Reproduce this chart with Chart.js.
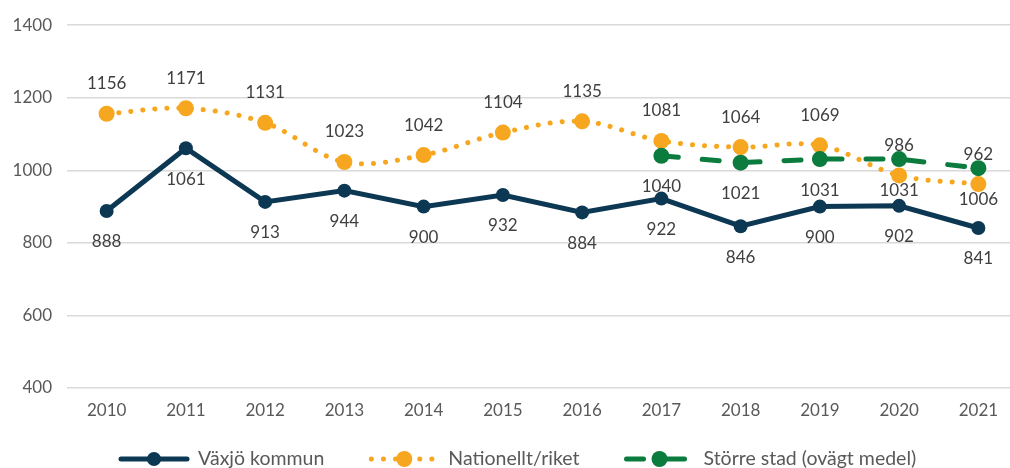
<!DOCTYPE html>
<html lang="sv">
<head>
<meta charset="utf-8">
<title>Växjö kommun – jämförelse</title>
<script src="https://cdn.jsdelivr.net/npm/chart.js@4/dist/chart.umd.min.js"></script>
<style>
    html, body { margin: 0; padding: 0; background: #fff; overflow: hidden; }
    .chart-wrap { position: relative; width: 1026px; height: 468px; }
</style>
</head>
<body>
<div class="chart-wrap"><canvas id="trendChart"></canvas></div>
<script>
// Series data
const years = ['2010', '2011', '2012', '2013', '2014', '2015', '2016', '2017', '2018', '2019', '2020', '2021'];
const vaxjo = [888, 1061, 913, 944, 900, 932, 884, 922, 846, 900, 902, 841];
const riket = [1156, 1171, 1131, 1023, 1042, 1104, 1135, 1081, 1064, 1069, 986, 962];
const storreStad = [null, null, null, null, null, null, null, 1040, 1021, 1031, 1031, 1006];
const yTicks = [400, 600, 800, 1000, 1200, 1400];

const colors = {
    navy: '#0c3853',
    orange: '#f7a71f',
    green: '#0b7b3e',
    grid: '#d9d9d9',
    text: '#595959',
    label: '#404040'
};

const fontFamily = 'Lato, "Open Sans", sans-serif';

// Value labels drawn next to every point (above or below)
const valueLabels = {
    id: 'valueLabels',
    afterDatasetsDraw(chart) {
        const { ctx } = chart;
        ctx.save();
        ctx.font = `17px ${fontFamily}`;
        ctx.fillStyle = colors.label;
        ctx.textAlign = 'center';
        ctx.textBaseline = 'middle';
        chart.data.datasets.forEach((ds, i) => {
            const meta = chart.getDatasetMeta(i);
            const shift = ds.labelSide === 'above' ? -30 : 31;
            meta.data.forEach((pt, j) => {
                const v = ds.data[j];
                if (v === null || v === undefined) return;
                ctx.fillText(String(v), pt.x, pt.y + shift);
            });
        });
        ctx.restore();
    }
};

// Legend with line samples and markers under the plot
const sampleLegend = {
    id: 'sampleLegend',
    afterDraw(chart) {
        const { ctx } = chart;
        const y = chart.height - 9;
        const sampleW = 70;
        const textGap = 9;
        const itemGap = 45;
        ctx.save();
        ctx.font = `19.5px ${fontFamily}`;
        ctx.textBaseline = 'middle';
        let x = 119;
        chart.data.datasets.forEach(ds => {
            ctx.strokeStyle = ds.borderColor;
            ctx.lineWidth = ds.borderWidth;
            ctx.lineCap = 'round';
            ctx.setLineDash(ds.borderDash || []);
            ctx.beginPath();
            ctx.moveTo(x + 2, y);
            ctx.lineTo(x + sampleW - 2, y);
            ctx.stroke();
            ctx.setLineDash([]);
            ctx.fillStyle = ds.pointBackgroundColor;
            ctx.beginPath();
            ctx.arc(x + sampleW / 2, y, ds.pointRadius, 0, Math.PI * 2);
            ctx.fill();
            ctx.fillStyle = colors.text;
            ctx.textAlign = 'left';
            ctx.fillText(ds.label, x + sampleW + textGap, y);
            x += sampleW + textGap + ctx.measureText(ds.label).width + itemGap;
        });
        ctx.restore();
    }
};

new Chart(document.getElementById('trendChart'), {
    type: 'line',
    data: {
        labels: years,
        datasets: [
            {
                label: 'Växjö kommun',
                data: vaxjo,
                borderColor: colors.navy,
                backgroundColor: colors.navy,
                pointBackgroundColor: colors.navy,
                pointBorderWidth: 0,
                pointRadius: 7,
                borderWidth: 5,
                tension: 0,
                labelSide: 'below',
                order: 2
            },
            {
                label: 'Nationellt/riket',
                data: riket,
                borderColor: colors.orange,
                backgroundColor: colors.orange,
                pointBackgroundColor: colors.orange,
                pointBorderWidth: 0,
                pointRadius: 8,
                borderWidth: 5,
                borderDash: [0.1, 12],
                borderCapStyle: 'round',
                tension: 0.35,
                labelSide: 'above',
                order: 1
            },
            {
                label: 'Större stad (ovägt medel)',
                data: storreStad,
                borderColor: colors.green,
                backgroundColor: colors.green,
                pointBackgroundColor: colors.green,
                pointBorderWidth: 0,
                pointRadius: 8,
                borderWidth: 5,
                borderDash: [17, 24],
                borderCapStyle: 'round',
                tension: 0,
                labelSide: 'below',
                order: 0
            }
        ]
    },
    options: {
        responsive: true,
        maintainAspectRatio: false,
        animation: false,
        layout: { padding: { top: 23, left: 0, right: 0, bottom: 0 } },
        plugins: {
            legend: { display: false },
            tooltip: { enabled: false }
        },
        scales: {
            x: {
                offset: true,
                grid: { display: false, drawTicks: false },
                border: { display: false },
                ticks: {
                    color: colors.text,
                    font: { family: fontFamily, size: 17 },
                    padding: 12,
                    maxRotation: 0
                },
                afterFit(scale) { scale.height = 80; }
            },
            y: {
                min: 400,
                max: 1400,
                afterBuildTicks(scale) {
                    scale.ticks = yTicks.map(v => ({ value: v }));
                },
                grid: { color: colors.grid, lineWidth: 1.5, drawTicks: false },
                border: { display: false },
                ticks: {
                    color: colors.text,
                    font: { family: fontFamily, size: 17 },
                    padding: 15,
                    callback: v => String(v)
                },
                afterFit(scale) { scale.width = 67; }
            }
        }
    },
    plugins: [valueLabels, sampleLegend]
});
</script>
</body>
</html>
